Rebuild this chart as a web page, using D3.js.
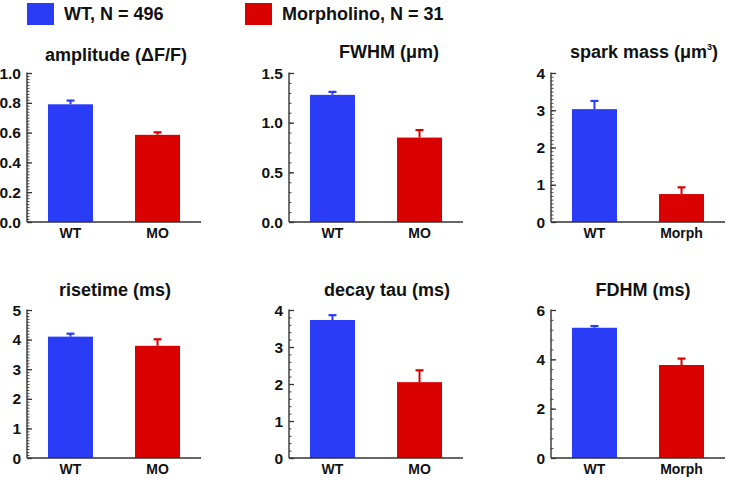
<!DOCTYPE html>
<html>
<head>
<meta charset="utf-8">
<script src="https://cdn.jsdelivr.net/npm/d3@7"></script>
<style>
  html, body { margin: 0; padding: 0; background: #fff; }
  svg { display: block; }
  text { font-family: Arial, "Liberation Sans", Helvetica, sans-serif; font-weight: bold; fill: #111; }
</style>
</head>
<body>
<svg id="chart" width="729" height="480"></svg>
<script>
// ---- data ----
const groups = ["WT", "Morpholino"];
const legendLabels = ["WT, N = 496", "Morpholino, N = 31"];
const panelTitles = ["amplitude (\u0394F/F)", "FWHM (\u03bcm)", "spark mass (\u03bcm", "risetime (ms)", "decay tau (ms)", "FDHM (ms)"];
const xLabels = [["WT", "MO"], ["WT", "MO"], ["WT", "Morph"], ["WT", "MO"], ["WT", "MO"], ["WT", "Morph"]];
const amplitude = [0.79, 0.585];
const amplitudeErr = [0.025, 0.017];
const fwhm = [1.28, 0.85];
const fwhmErr = [0.03, 0.075];
const sparkMass = [3.03, 0.75];
const sparkMassErr = [0.22, 0.18];
const risetime = [4.10, 3.79];
const risetimeErr = [0.10, 0.22];
const decayTau = [3.73, 2.05];
const decayTauErr = [0.13, 0.32];
const fdhm = [5.28, 3.77];
const fdhmErr = [0.07, 0.26];
const yMax = [1.0, 1.5, 4, 5, 4, 6];
const majorStep = [0.2, 0.5, 1, 1, 1, 2];
const minorStep = [0.02, 0.1, 0.1, 0.1, 0.2, 0.4];

const values = [amplitude, fwhm, sparkMass, risetime, decayTau, fdhm];
const errors = [amplitudeErr, fwhmErr, sparkMassErr, risetimeErr, decayTauErr, fdhmErr];
const colors = ["#2a3cf6", "#d90000"];

const svg = d3.select("#chart");

// ---- legend ----
const legX = [27, 245];
groups.forEach((g, i) => {
  svg.append("rect").attr("x", legX[i]).attr("y", 3).attr("width", 27).attr("height", 22).attr("fill", colors[i]);
  svg.append("text").attr("x", legX[i] + 37).attr("y", 20).attr("font-size", 18).text(legendLabels[i]);
});

// ---- panels ----
const colX = [27, 289, 551];
const rows = [{top: 73, bottom: 222, titleY: 59}, {top: 310, bottom: 458, titleY: 297}];
const titleCx = [[116, 389, 644], [115, 387, 643]];
const W = 174;

values.forEach((vals, p) => {
  const r = Math.floor(p / 3), c = p % 3;
  const ox = colX[c];
  const row = rows[r];
  const g = svg.append("g").attr("transform", `translate(${ox},0)`);

  const x = d3.scaleBand().domain(xLabels[p]).range([0, W]).paddingInner(0.483).paddingOuter(0.241);
  const y = d3.scaleLinear().domain([0, yMax[p]]).range([row.bottom, row.top]);

  // bars
  g.selectAll("rect.bar").data(vals).join("rect")
    .attr("class", "bar")
    .attr("x", (d, i) => x(xLabels[p][i]))
    .attr("width", x.bandwidth())
    .attr("y", d => y(d))
    .attr("height", d => y(0) - y(d))
    .attr("fill", (d, i) => colors[i]);

  // error bars (upper only)
  vals.forEach((v, i) => {
    const cx = x(xLabels[p][i]) + x.bandwidth() / 2;
    const top = y(v + errors[p][i]);
    g.append("line").attr("x1", cx).attr("x2", cx).attr("y1", y(v)).attr("y2", top)
      .attr("stroke", colors[i]).attr("stroke-width", 2);
    g.append("line").attr("x1", cx - 4).attr("x2", cx + 4).attr("y1", top).attr("y2", top)
      .attr("stroke", colors[i]).attr("stroke-width", 2.2);
  });

  // minor ticks
  const minors = d3.range(0, yMax[p] + 1e-9, minorStep[p]);
  const yMinor = d3.axisRight(y).tickValues(minors).tickSize(2.5).tickFormat("");
  const gm = g.append("g").call(yMinor);
  gm.select(".domain").remove();
  gm.selectAll("line").attr("stroke", "#333").attr("stroke-width", 0.9);

  // major ticks
  const majors = d3.range(0, yMax[p] + 1e-9, majorStep[p]);
  const yMajorTicks = d3.axisRight(y).tickValues(majors).tickSize(5).tickFormat("");
  const gM = g.append("g").call(yMajorTicks);
  gM.select(".domain").remove();
  gM.selectAll("line").attr("stroke", "#333").attr("stroke-width", 1.3);

  // tick labels
  const fmt = majorStep[p] < 1 ? d3.format(".1f") : d3.format("d");
  g.selectAll("text.ylab").data(majors).join("text")
    .attr("class", "ylab")
    .attr("x", -6).attr("y", d => y(d) + 5.5)
    .attr("text-anchor", "end").attr("font-size", 15.5)
    .text(d => fmt(d));

  // axis lines
  g.append("line").attr("x1", 0).attr("x2", 0).attr("y1", row.top - 0.5).attr("y2", row.bottom)
    .attr("stroke", "#333").attr("stroke-width", 1.4);
  g.append("line").attr("x1", 0).attr("x2", W).attr("y1", row.bottom).attr("y2", row.bottom)
    .attr("stroke", "#333").attr("stroke-width", 1.6);

  // x labels
  const xAxis = d3.axisBottom(x).tickSize(0).tickPadding(0);
  const gx = g.append("g").attr("transform", `translate(0,${row.bottom})`).call(xAxis);
  gx.select(".domain").remove();
  gx.selectAll("text").attr("font-size", 14).attr("dy", null).attr("y", 16)
    .style("font-family", "Arial, 'Liberation Sans', sans-serif").style("font-weight", "bold").attr("fill", "#111");

  // title
  const t = svg.append("text").attr("x", titleCx[r][c]).attr("y", p === 0 ? row.titleY + 2 : row.titleY - 1)
    .attr("text-anchor", "middle").attr("font-size", 18).text(panelTitles[p]);
  if (p === 2) {
    t.append("tspan").attr("font-size", 9).attr("dy", -8).text("3");
    t.append("tspan").attr("dy", 8).text(")");
  }
});
</script>
</body>
</html>
